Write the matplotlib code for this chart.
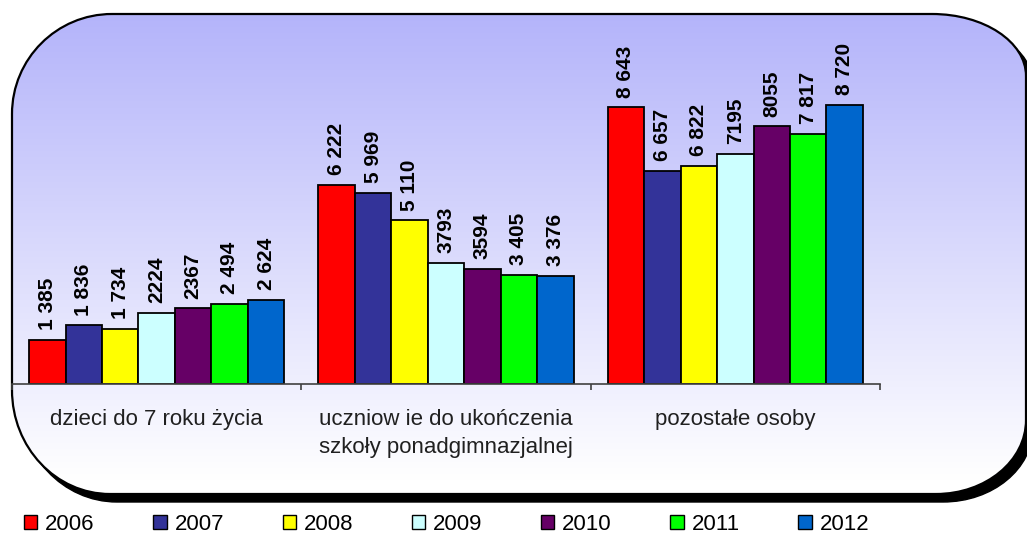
import numpy as np
import matplotlib
matplotlib.use('Agg')
import matplotlib.pyplot as plt
from matplotlib.patches import PathPatch, Patch
from matplotlib.path import Path

# --------------------------------------------------
# data
categories = ['dzieci do 7 roku życia',
              'uczniow ie do ukończenia\nszkoły ponadgimnazjalnej',
              'pozostałe osoby']
years = ['2006', '2007', '2008', '2009', '2010', '2011', '2012']
v2006 = [1385, 6222, 8643]
v2007 = [1836, 5969, 6657]
v2008 = [1734, 5110, 6822]
v2009 = [2224, 3793, 7195]
v2010 = [2367, 3594, 8055]
v2011 = [2494, 3405, 7817]
v2012 = [2624, 3376, 8720]
lab2006 = ['1 385', '6 222', '8 643']
lab2007 = ['1 836', '5 969', '6 657']
lab2008 = ['1 734', '5 110', '6 822']
lab2009 = ['2224', '3793', '7195']
lab2010 = ['2367', '3594', '8055']
lab2011 = ['2 494', '3 405', '7 817']
lab2012 = ['2 624', '3 376', '8 720']

series = [v2006, v2007, v2008, v2009, v2010, v2011, v2012]
labels = [lab2006, lab2007, lab2008, lab2009, lab2010, lab2011, lab2012]
colours = ['#FF0000', '#333399', '#FFFF00', '#CCFFFF', '#660066', '#00FF00', '#0066CC']

plt.rcParams['font.family'] = ['Liberation Sans', 'DejaVu Sans']

W, H = 1027, 534
fig = plt.figure(figsize=(W / 100, H / 100), dpi=100, facecolor='white')


# rounded box path, pixel coords (y down), each corner its own (rx, ry)
def rounded_box(x0, y0, x1, y1, tl, tr, br, bl, dx=0, dy=0):
    k = 0.5523
    x0, x1, y0, y1 = x0 + dx, x1 + dx, y0 + dy, y1 + dy
    v = [(x0 + tl[0], y0), (x1 - tr[0], y0),
         (x1 - tr[0] + k * tr[0], y0), (x1, y0 + tr[1] - k * tr[1]), (x1, y0 + tr[1]),
         (x1, y1 - br[1]),
         (x1, y1 - br[1] + k * br[1]), (x1 - br[0] + k * br[0], y1), (x1 - br[0], y1),
         (x0 + bl[0], y1),
         (x0 + bl[0] - k * bl[0], y1), (x0, y1 - bl[1] + k * bl[1]), (x0, y1 - bl[1]),
         (x0, y0 + tl[1]),
         (x0, y0 + tl[1] - k * tl[1]), (x0 + tl[0] - k * tl[0], y0), (x0 + tl[0], y0)]
    c = [Path.MOVETO, Path.LINETO,
         Path.CURVE4, Path.CURVE4, Path.CURVE4,
         Path.LINETO,
         Path.CURVE4, Path.CURVE4, Path.CURVE4,
         Path.LINETO,
         Path.CURVE4, Path.CURVE4, Path.CURVE4,
         Path.LINETO,
         Path.CURVE4, Path.CURVE4, Path.CURVE4]
    return Path(v, c)


# --------------------------------------------------
# background: rounded box with shadow and gradient
bg = fig.add_axes([0, 0, 1, 1], zorder=0)
bg.set_xlim(0, W)
bg.set_ylim(H, 0)
bg.axis('off')

corners = dict(tl=(100, 100), tr=(94, 62), br=(90, 74), bl=(98, 104))
shadow = PathPatch(rounded_box(12, 14, 1026, 494, dx=7, dy=8, **corners),
                   fc='black', ec='black', lw=1)
bg.add_patch(shadow)

top = np.array([180, 180, 250]) / 255.0
yy = np.arange(H)
t = np.clip((yy - 14) / (480 - 14), 0, 1)
grad = top[None, :] * (1 - t[:, None]) + np.ones(3)[None, :] * t[:, None]
img = np.repeat(grad[:, None, :], 2, axis=1)

box = PathPatch(rounded_box(12, 14, 1026, 494, **corners), fc='white', ec='none')
bg.add_patch(box)
im = bg.imshow(img, extent=[0, W, H, 0], origin='upper', aspect='auto', zorder=2)
im.set_clip_path(box)
border = PathPatch(rounded_box(12, 14, 1026, 494, **corners),
                   fc='none', ec='black', lw=1.6, zorder=3)
bg.add_patch(border)

# --------------------------------------------------
# bars
ax = fig.add_axes([12 / W, 150 / H, 868 / W, 320 / H], zorder=1)
ax.patch.set_alpha(0)
x = np.arange(len(categories))
bw_ = 0.126
for i, (vals, labs, col) in enumerate(zip(series, labels, colours)):
    off = (i - 3) * bw_
    bars = ax.bar(x + off, vals, width=bw_, color=col, edgecolor='black', lw=1.3)
    ax.bar_label(bars, labels=labs, rotation=90, padding=7,
                 fontsize=15, fontweight='bold', color='black')

ax.set_xlim(-0.5, 2.5)
ax.set_ylim(0, 10000)
for s in ['top', 'right', 'left']:
    ax.spines[s].set_visible(False)
ax.spines['bottom'].set_color('#404040')
ax.spines['bottom'].set_linewidth(1.2)
ax.set_yticks([])
ax.set_xticks(x)
ax.set_xticklabels(categories, fontsize=16, linespacing=1.45, color='#202020',
                   multialignment='center')
ax.tick_params(axis='x', which='major', length=0, pad=18)
ax.set_xticks([-0.5, 0.5, 1.5, 2.5], minor=True)
ax.tick_params(axis='x', which='minor', length=4, width=1.2, color='#404040')

# --------------------------------------------------
# legend
handles = [Patch(facecolor=c, edgecolor='black', lw=1) for c in colours]
fig.legend(handles, years, loc='center left', bbox_to_anchor=(24 / W, 10 / H),
           ncol=7, frameon=False, fontsize=16, handlelength=0.6, handleheight=0.6,
           handletextpad=0.36, columnspacing=2.63, borderpad=0, borderaxespad=0)

plt.savefig('out.png', dpi=100)
